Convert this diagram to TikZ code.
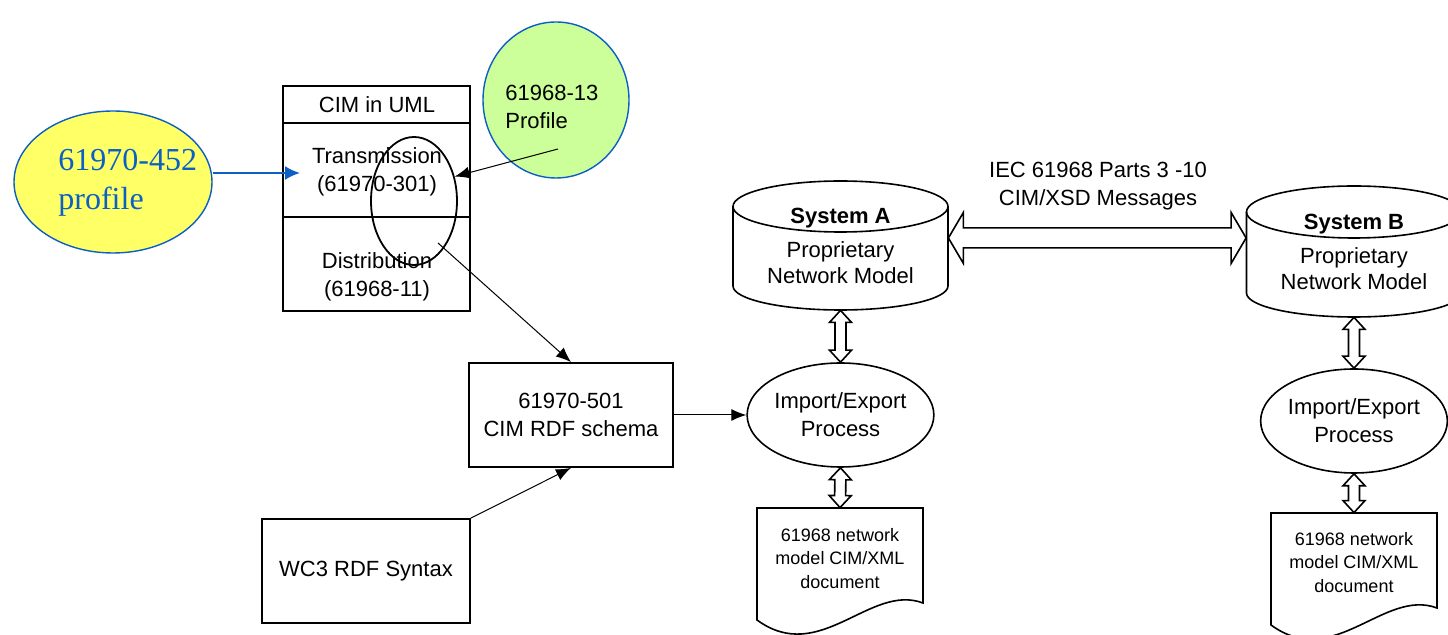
\documentclass[tikz,border=0pt]{standalone}
\usepackage{fontspec}
\setmainfont{Liberation Sans}
\newfontfamily\tmsfont{Liberation Serif}
\usetikzlibrary{shapes.geometric,arrows.meta,calc}
\definecolor{ylwfill}{HTML}{FFFF66}
\definecolor{grnfill}{HTML}{CCFF99}
\definecolor{cimblue}{HTML}{0B5FC5}
\tikzset{
  hollowarrow/.style n args={3}{to path={let \p1=($(\tikztostart)!#1!(\tikztotarget)$), \p2=($(\tikztotarget)!#1!(\tikztostart)$) in
    -- ($(\p1)!#2!90:(\tikztotarget)$) -- ($(\p1)!#3!90:(\tikztotarget)$)
    -- ($(\p2)!#3!-90:(\tikztostart)$) -- ($(\p2)!#2!-90:(\tikztostart)$)
    -- (\tikztotarget)
    -- ($(\p2)!#2!90:(\tikztostart)$) -- ($(\p2)!#3!90:(\tikztostart)$)
    -- ($(\p1)!#3!-90:(\tikztotarget)$) -- ($(\p1)!#2!-90:(\tikztotarget)$)
    -- cycle}}
}
\begin{document}
\begin{tikzpicture}[x=0.5pt,y=-0.5pt]
\tikzstyle{every node}+=[inner sep=0pt]
\tikzstyle{txt}=[font=\fontsize{11}{14}\selectfont, align=center]
\tikzstyle{small}=[font=\fontsize{9}{11.75}\selectfont, align=center]
\tikzstyle{heavy}=[line width=0.9pt]
\tikzstyle{medium}=[line width=0.8pt]
\tikzstyle{fine}=[line width=0.5pt]
\tikzstyle{blacktip}=[-{Latex[length=7.5pt,width=6pt]}]
\tikzstyle{bigpipe}=[hollowarrow={7.5pt}{12.75pt}{5pt}, medium, fill=white]
\tikzstyle{pipe}=[hollowarrow={6pt}{5.5pt}{2.75pt}, medium, fill=white]
\useasboundingbox (0,0) rectangle (1448,635);
% profiles
\node [ellipse, draw=cimblue, line width=0.7pt, fill=ylwfill, minimum width=99pt, minimum height=71pt] (ylw) at (113,182) {};
\node [anchor=west, align=left, text=cimblue, font=\tmsfont\fontsize{16}{19.5}\selectfont] (ylwtxt) at (58,182.5) {61970-452\\profile};
\node [ellipse, draw=cimblue, line width=0.7pt, fill=grnfill, minimum width=73pt, minimum height=78pt] (grn) at (556,100) {};
\node [txt, anchor=west, align=left] (grntxt) at (505,106.5) {61968-13\\Profile};
% CIM in UML
\node [draw, heavy, minimum width=93.5pt, minimum height=112.5pt] (uml) at (376.5,198.5) {};
\draw [heavy] (283,123) -- (470,123);
\draw [heavy] (283,217) -- (470,217);
\node [txt] (umltitle) at (377,105) {CIM in UML};
\node [txt] (trans) at (377,171.5) {Transmission\\(61970-301)};
\node [txt] (dist) at (377,276.5) {Distribution\\(61968-11)};
\node [ellipse, draw, heavy, minimum width=43pt, minimum height=64pt] (sel) at (414,201) {};
% schema and syntax
\node [draw, heavy, txt, minimum width=102pt, minimum height=52pt] (schema) at (571,415) {61970-501\\CIM RDF schema};
\node [draw, heavy, txt, minimum width=104pt, minimum height=52pt] (wc3) at (366,571) {WC3 RDF Syntax};
% system A
\draw [medium] (840.5,206.5) ellipse [x radius=107.5, y radius=25.5];
\draw [medium] (733,206.5) -- (733,286) arc [start angle=180, end angle=0, x radius=107.5, y radius=24] -- (948,206.5);
\node [txt, minimum width=107.5pt, minimum height=64.5pt] (sysA) at (840.5,245.5) {\textbf{System A}\\[3pt]Proprietary\\[-1pt]Network Model};
\node [ellipse, draw, medium, txt, minimum width=86.5pt, minimum height=52pt] (impA) at (840.5,415) {Import/Export\\Process};
\draw [medium] (757,508) -- (923,508) -- (923,603) .. controls (870,583) and (820,666) .. (757,620) -- cycle;
\node [small, minimum height=50.5pt] (docA) at (840,558.5) {61968 network\\model CIM/XML\\document};
% system B
\draw [medium] (1354,212) ellipse [x radius=107.5, y radius=26];
\draw [medium] (1246.5,212) -- (1246.5,293) arc [start angle=180, end angle=0, x radius=107.5, y radius=24] -- (1461.5,212);
\node [txt, minimum width=107.5pt, minimum height=65.5pt] (sysB) at (1354,251.5) {\textbf{System B}\\[3pt]Proprietary\\[-1pt]Network Model};
\node [ellipse, draw, medium, txt, minimum width=86.5pt, minimum height=52pt] (impB) at (1354,421) {Import/Export\\Process};
\draw [medium] (1271,513) -- (1437,513) -- (1437,608) .. controls (1384,588) and (1334,671) .. (1271,625) -- cycle;
\node [small, minimum height=49.5pt] (docB) at (1354,562.5) {61968 network\\model CIM/XML\\document};
\node [txt] (msg) at (1098,186) {IEC 61968 Parts 3 -10\\CIM/XSD Messages};
% connectors
\coordinate (transin) at (300,173);
\coordinate (grnpt) at (558,149);
\coordinate (selin) at (438,243);
\draw [cimblue, line width=1pt, -{Latex[length=7.5pt,width=7pt]}] (ylw.east |- transin) -- (transin);
\draw [fine, blacktip] (grnpt) -- (sel.31);
\draw [fine, blacktip] (selin) -- (schema.north);
\draw [fine, blacktip] (wc3.north east) -- (schema.south);
\draw [fine, blacktip] (schema.east) -- (impA.west);
\draw [bigpipe] (sysA.4) to (sysA.4 -| sysB.west);
\draw [pipe] (sysA.south) to (impA.north);
\draw [pipe] (impA.south) to (docA.north);
\draw [pipe] (sysB.south) to (impB.north);
\draw [pipe] (impB.south) to (docB.north);
\end{tikzpicture}
\end{document}
